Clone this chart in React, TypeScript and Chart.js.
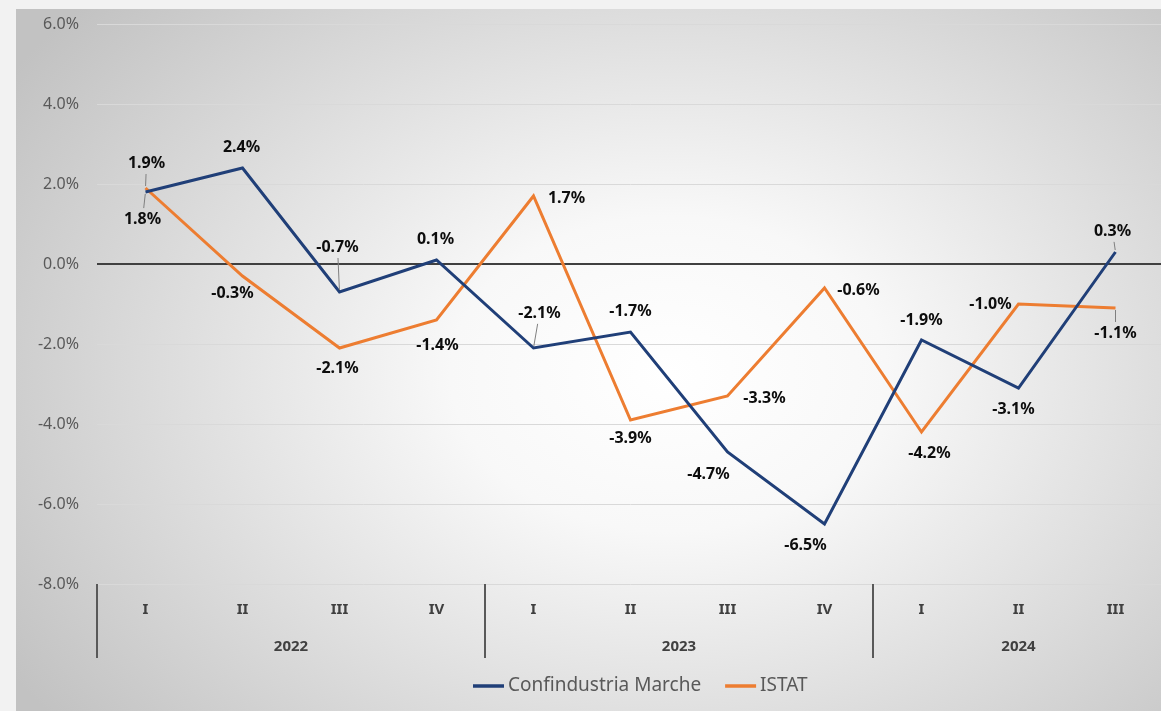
import React, { useEffect, useRef } from "react";
import { Chart, registerables } from "chart.js";

Chart.register(...registerables);

const quarters = ["I", "II", "III", "IV", "I", "II", "III", "IV", "I", "II", "III"];
const years = ["2022", "2023", "2024"];
const quartersPerYear = [4, 4, 3];
const confindustria = [1.8, 2.4, -0.7, 0.1, -2.1, -1.7, -4.7, -6.5, -1.9, -3.1, 0.3];
const istat = [1.9, -0.3, -2.1, -1.4, 1.7, -3.9, -3.3, -0.6, -4.2, -1.0, -1.1];
const yTicks = [-8, -6, -4, -2, 0, 2, 4, 6];

// label placement (style): [dx, dy, leader]
const confOffsets: [number, number, boolean][] = [
  [-3, 27, true], [-1, -21, false], [-2, -45, true], [-1, -21, false], [6, -35, true],
  [0, -21, false], [-19, 22, false], [-19, 21, false], [0, -20, false], [-5, 21, false], [-3, -21, true],
];
const istatOffsets: [number, number, boolean][] = [
  [1, -25, true], [-10, 17, false], [-2, 20, false], [1, 25, false], [33, 2, false],
  [0, 18, false], [37, 2, false], [34, 2, false], [8, 21, false], [-28, 0, false], [0, 25, true],
];

const FONT = "'Noto Sans', 'DejaVu Sans', sans-serif";

const pointLabels = {
  id: "pointLabels",
  afterDatasetsDraw(chart: any) {
    const ctx = chart.ctx;
    const offsets = [confOffsets, istatOffsets];
    ctx.save();
    chart.data.datasets.forEach((ds: any, i: number) => {
      const meta = chart.getDatasetMeta(i);
      meta.data.forEach((pt: any, j: number) => {
        const [dx, dy, leader] = offsets[i][j];
        const v = ds.data[j] as number;
        const tx = pt.x + dx;
        const ty = pt.y + dy;
        if (leader) {
          ctx.strokeStyle = "#7f7f7f";
          ctx.lineWidth = 1;
          ctx.beginPath();
          const len = Math.hypot(dx, dy);
          const ux = dx / len, uy = dy / len;
          ctx.moveTo(pt.x + ux * 2, pt.y + uy * 2);
          ctx.lineTo(tx - ux * 11, ty - uy * 11);
          ctx.stroke();
        }
        ctx.fillStyle = "#0d0d0d";
        ctx.font = `bold 16px ${FONT}`;
        ctx.textAlign = "center";
        ctx.textBaseline = "middle";
        ctx.fillText(v.toFixed(1) + "%", tx, ty);
      });
    });
    ctx.restore();
  },
};

const yearAxis = {
  id: "yearAxis",
  afterDraw(chart: any) {
    const ctx = chart.ctx;
    const x = chart.scales.x;
    const bottom = chart.chartArea.bottom;
    ctx.save();
    let start = 0;
    const step = x.getPixelForValue(1) - x.getPixelForValue(0);
    years.forEach((yr, k) => {
      const end = start + quartersPerYear[k] - 1;
      const left = x.getPixelForValue(start) - step / 2;
      ctx.strokeStyle = "#595959";
      ctx.lineWidth = 2;
      ctx.beginPath();
      ctx.moveTo(left, bottom);
      ctx.lineTo(left, bottom + 74);
      ctx.stroke();
      const cx = (x.getPixelForValue(start) + x.getPixelForValue(end)) / 2;
      ctx.fillStyle = "#404040";
      ctx.font = `bold 15px ${FONT}`;
      ctx.textAlign = "center";
      ctx.textBaseline = "middle";
      ctx.fillText(yr, cx, bottom + 63);
      start = end + 1;
    });
    ctx.restore();
  },
};

const customLegend = {
  id: "customLegend",
  afterDraw(chart: any) {
    const ctx = chart.ctx;
    ctx.save();
    let x = 457;
    const y = chart.chartArea.bottom + 102;
    ctx.font = `19px ${FONT}`;
    ctx.textBaseline = "middle";
    ctx.textAlign = "left";
    chart.data.datasets.forEach((ds: any) => {
      ctx.strokeStyle = ds.borderColor;
      ctx.lineWidth = 3.5;
      ctx.beginPath();
      ctx.moveTo(x, y);
      ctx.lineTo(x + 31, y);
      ctx.stroke();
      x += 35;
      ctx.fillStyle = "#595959";
      ctx.fillText(ds.label, x, y);
      x += ctx.measureText(ds.label).width + 24;
    });
    ctx.restore();
  },
};

export default function App() {
  const ref = useRef<HTMLCanvasElement>(null);
  useEffect(() => {
    document.body.style.margin = "0";
    const chart = new Chart(ref.current!, {
      type: "line",
      data: {
        labels: quarters,
        datasets: [
          {
            label: "Confindustria Marche",
            data: confindustria,
            borderColor: "#203f78",
            backgroundColor: "#203f78",
            borderWidth: 3,
            pointRadius: 0,
            tension: 0,
          },
          {
            label: "ISTAT",
            data: istat,
            borderColor: "#ed7d31",
            backgroundColor: "#ed7d31",
            borderWidth: 3,
            pointRadius: 0,
            tension: 0,
          },
        ],
      },
      options: {
        animation: false,
        responsive: false,
        devicePixelRatio: 1,
        layout: { padding: { top: 15, right: 2, left: 0, bottom: 43 } },
        scales: {
          x: {
            offset: true,
            grid: { display: false },
            border: { display: false },
            ticks: {
              color: "#404040",
              font: { family: FONT, size: 15, weight: "bold" },
              padding: 9,
              maxRotation: 0,
              autoSkip: false,
            },
            afterFit: (s: any) => {
              s.height = 84;
              s.paddingLeft = 0;
              s.paddingRight = 0;
            },
          },
          y: {
            min: -8,
            max: 6,
            afterBuildTicks: (s: any) => {
              s.ticks = yTicks.map((v) => ({ value: v }));
            },
            grid: {
              drawTicks: false,
              color: (c: any) => (c.tick && c.tick.value === 0 ? "#404040" : "#d9d9d9"),
              lineWidth: (c: any) => (c.tick && c.tick.value === 0 ? 2 : 1),
            },
            border: { display: false },
            ticks: {
              color: "#595959",
              font: { family: FONT, size: 16 },
              padding: 18,
              callback: (v: any) => Number(v).toFixed(1) + "%",
            },
            afterFit: (s: any) => {
              s.width = 81;
              s.paddingTop = 0;
              s.paddingBottom = 0;
            },
          },
        },
        plugins: {
          legend: { display: false },
          tooltip: { enabled: false },
        },
      },
      plugins: [pointLabels, yearAxis, customLegend],
    });
    return () => chart.destroy();
  }, []);
  return (
    <div
      style={{
        position: "absolute",
        left: 0,
        top: 0,
        width: 1161,
        height: 711,
        background: "#f2f2f2",
        overflow: "hidden",
      }}
    >
      <div
        style={{
          position: "absolute",
          left: 16,
          top: 9,
          width: 1145,
          height: 702,
          overflow: "hidden",
          background:
            "radial-gradient(ellipse 68% 80% at 57% 52%, #ffffff 0%, #f8f8f8 28%, #c2c2c2 100%)",
        }}
      >
        <canvas ref={ref} width={1150} height={702} style={{ display: "block" }} />
      </div>
    </div>
  );
}
